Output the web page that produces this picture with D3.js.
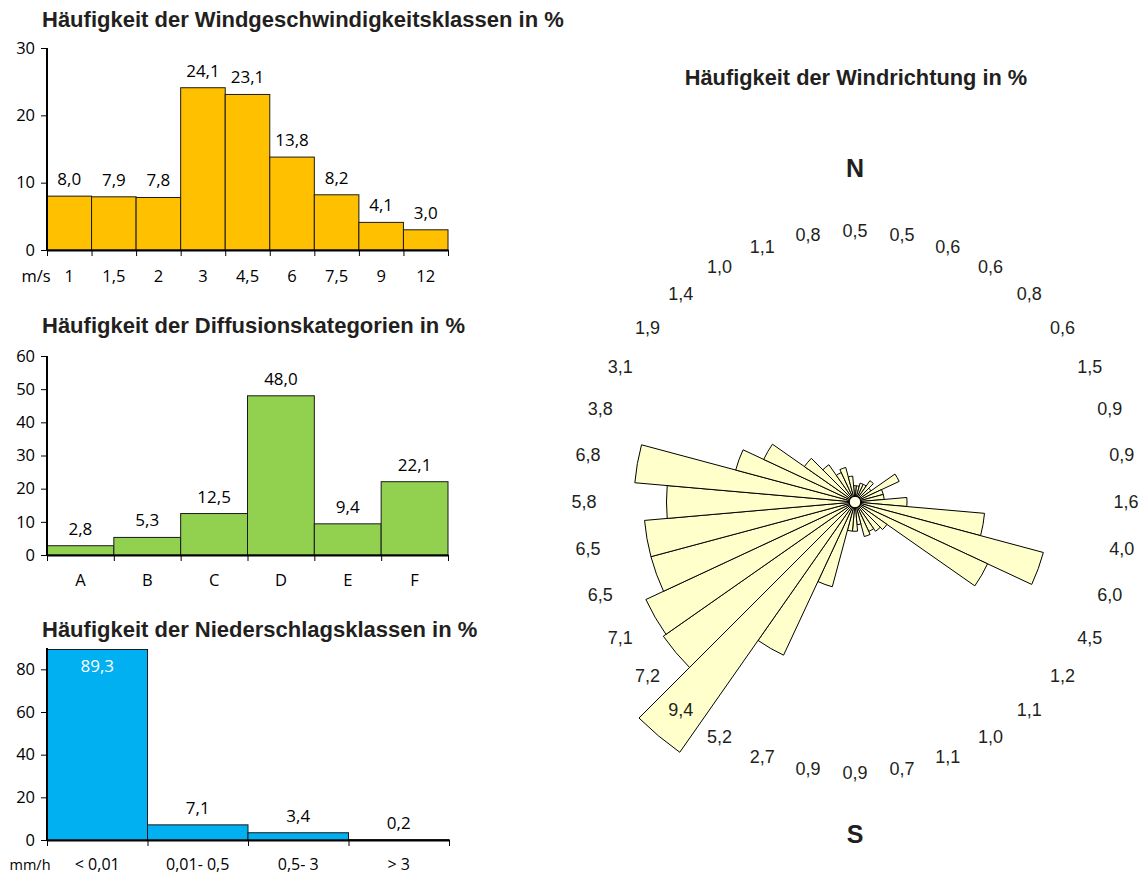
<!DOCTYPE html>
<html>
<head>
<meta charset="utf-8">
<script src="https://cdn.jsdelivr.net/npm/d3@7"></script>
<style>
  body { margin: 0; background: #fff; }
</style>
</head>
<body>
<div id="chart"></div>
<script>
// Windgeschwindigkeitsklassen (m/s)
const speedCats = ["1", "1,5", "2", "3", "4,5", "6", "7,5", "9", "12"];
const speedVals = [8.0, 7.9, 7.8, 24.1, 23.1, 13.8, 8.2, 4.1, 3.0];
const speedTicks = [0, 10, 20, 30];

// Diffusionskategorien
const diffCats = ["A", "B", "C", "D", "E", "F"];
const diffVals = [2.8, 5.3, 12.5, 48.0, 9.4, 22.1];
const diffTicks = [0, 10, 20, 30, 40, 50, 60];

// Niederschlagsklassen (mm/h)
const rainCats = ["< 0,01", "0,01- 0,5", "0,5- 3", "> 3"];
const rainVals = [89.3, 7.1, 3.4, 0.2];
const rainTicks = [0, 20, 40, 60, 80];

// Windrichtung, 36 Sektoren zu 10°, ab Nord im Uhrzeigersinn
const dirAngles = d3.range(0, 360, 10);
const dirVals = [0.5, 0.5, 0.6, 0.6, 0.8, 0.6, 1.5, 0.9, 0.9, 1.6, 4.0, 6.0,
                 4.5, 1.2, 1.1, 1.0, 1.1, 0.7, 0.9, 0.9, 2.7, 5.2, 9.4, 7.2,
                 7.1, 6.5, 6.5, 5.8, 6.8, 3.8, 3.1, 1.9, 1.4, 1.0, 1.1, 0.8];

const de = d3.formatLocale({ decimal: ",", thousands: ".", grouping: [3], currency: ["", " €"] });
const fmt = de.format(".1f");

const titleFont = "'Liberation Sans', Arial, sans-serif";
const tickFont = "'Open Sans', sans-serif";

const svg = d3.select("#chart")
    .append("svg")
    .attr("width", 1146)
    .attr("height", 877);

// Histogramm zeichnen
function barChart(opt) {
    const g = svg.append("g");
    const n = opt.cats.length;

    const x = d3.scaleBand()
        .domain(opt.cats)
        .range([opt.x0, opt.x1])
        .padding(0);

    const xLin = d3.scaleLinear()
        .domain([0, n])
        .range([opt.x0, opt.x1]);

    const y = d3.scaleLinear()
        .domain([0, opt.yMax])
        .range([opt.y0, opt.yTop]);

    // Titel
    g.append("text")
        .attr("x", 42)
        .attr("y", opt.titleY)
        .attr("font-family", titleFont)
        .attr("font-weight", "bold")
        .attr("font-size", "22px")
        .attr("fill", "#231f20")
        .text(opt.title);

    // Balken
    g.selectAll("rect.bar")
        .data(opt.vals)
        .enter()
        .append("rect")
        .attr("class", "bar")
        .attr("x", (d, i) => x(opt.cats[i]))
        .attr("width", x.bandwidth())
        .attr("y", d => y(d))
        .attr("height", d => y(0) - y(d))
        .attr("fill", opt.color)
        .attr("stroke", "#1a1a1a")
        .attr("stroke-width", 1);

    // Y-Achse
    const yAxis = g.append("g")
        .attr("transform", `translate(${opt.x0},0)`)
        .call(d3.axisLeft(y).tickValues(opt.ticks).tickSize(6).tickPadding(6).tickFormat(d3.format("d")));
    yAxis.select(".domain").attr("stroke-width", 2).attr("d", `M0,${opt.y0}V${opt.yTop}`);
    yAxis.selectAll("text").attr("font-family", tickFont).attr("font-size", "16.5px").attr("fill", "#000");

    // X-Achse: Striche an den Klassengrenzen
    const xAxis = g.append("g")
        .attr("transform", `translate(0,${opt.y0})`)
        .call(d3.axisBottom(xLin).tickValues(d3.range(n + 1)).tickSize(6).tickSizeOuter(0).tickFormat(""));
    xAxis.select(".domain").attr("stroke-width", 2);

    // Klassenbeschriftung
    g.selectAll("text.cat")
        .data(opt.cats)
        .enter()
        .append("text")
        .attr("class", "cat")
        .attr("x", d => x(d) + x.bandwidth() / 2)
        .attr("y", opt.catY)
        .attr("text-anchor", "middle")
        .attr("font-family", tickFont)
        .attr("font-size", opt.catSize || "16.5px")
        .text(d => d);

    if (opt.unit) {
        g.append("text")
            .attr("x", opt.unitX)
            .attr("y", opt.catY)
            .attr("text-anchor", "middle")
            .attr("font-family", tickFont)
            .attr("font-size", opt.unitSize || "16.5px")
            .text(opt.unit);
    }

    // Werte
    g.selectAll("text.val")
        .data(opt.vals)
        .enter()
        .append("text")
        .attr("class", "val")
        .attr("x", (d, i) => x(opt.cats[i]) + x.bandwidth() / 2)
        .attr("y", d => d > opt.yMax * 0.9 ? y(d) + 23 : y(d) - 11)
        .attr("text-anchor", "middle")
        .attr("font-family", tickFont)
        .attr("font-size", "17px")
        .attr("fill", d => d > opt.yMax * 0.9 ? "#fff" : "#000")
        .text(d => fmt(d));
}

barChart({
    title: "Häufigkeit der Windgeschwindigkeitsklassen in %",
    titleY: 27, cats: speedCats, vals: speedVals, ticks: speedTicks, yMax: 30,
    x0: 47, x1: 448, y0: 250, yTop: 48, catY: 282,
    color: "#ffc000", unit: "m/s", unitX: 36
});

barChart({
    title: "Häufigkeit der Diffusionskategorien in %",
    titleY: 333, cats: diffCats, vals: diffVals, ticks: diffTicks, yMax: 60,
    x0: 47, x1: 448, y0: 555, yTop: 356, catY: 586,
    color: "#92d050"
});

barChart({
    title: "Häufigkeit der Niederschlagsklassen in %",
    titleY: 637, cats: rainCats, vals: rainVals, ticks: rainTicks, yMax: 90,
    x0: 47, x1: 449, y0: 840, yTop: 648, catY: 870,
    color: "#00b0f0", unit: "mm/h", unitX: 30, unitSize: "14.5px", catSize: "16px"
});

// Windrose
const cx = 855, cy = 502;
const rose = svg.append("g").attr("transform", `translate(${cx},${cy})`);

const r = d3.scaleLinear().domain([0, 1]).range([0, 32.5]);
const toRad = d => d * Math.PI / 180;

const arc = d3.arc()
    .innerRadius(0)
    .outerRadius(d => r(d.v))
    .startAngle(d => toRad(d.a - 5))
    .endAngle(d => toRad(d.a + 5));

const roseData = dirAngles.map((a, i) => ({ a: a, v: dirVals[i] }));

rose.selectAll("path.sector")
    .data(roseData)
    .enter()
    .append("path")
    .attr("class", "sector")
    .attr("d", arc)
    .attr("fill", "#ffffcc")
    .attr("stroke", "#000")
    .attr("stroke-width", 1)
    .attr("stroke-linejoin", "round");

rose.append("circle")
    .attr("r", 5.7)
    .attr("fill", "#ffffe8")
    .attr("stroke", "#000")
    .attr("stroke-width", 1);

// Beschriftung der Sektoren
const labelR = 271;
rose.selectAll("text.dir")
    .data(roseData)
    .enter()
    .append("text")
    .attr("class", "dir")
    .attr("x", d => labelR * Math.sin(toRad(d.a)))
    .attr("y", d => -labelR * Math.cos(toRad(d.a)))
    .attr("text-anchor", "middle")
    .attr("dominant-baseline", "central")
    .attr("font-family", titleFont)
    .attr("font-size", "18px")
    .attr("fill", "#231f20")
    .text(d => fmt(d.v));

svg.append("text")
    .attr("x", 856)
    .attr("y", 85)
    .attr("text-anchor", "middle")
    .attr("font-family", titleFont)
    .attr("font-weight", "bold")
    .attr("font-size", "21.8px")
    .attr("fill", "#231f20")
    .text("Häufigkeit der Windrichtung in %");

svg.append("text")
    .attr("x", cx)
    .attr("y", 177)
    .attr("text-anchor", "middle")
    .attr("font-family", titleFont)
    .attr("font-weight", "bold")
    .attr("font-size", "25px")
    .attr("fill", "#231f20")
    .text("N");

svg.append("text")
    .attr("x", cx)
    .attr("y", 843)
    .attr("text-anchor", "middle")
    .attr("font-family", titleFont)
    .attr("font-weight", "bold")
    .attr("font-size", "25px")
    .attr("fill", "#231f20")
    .text("S");
</script>
</body>
</html>
